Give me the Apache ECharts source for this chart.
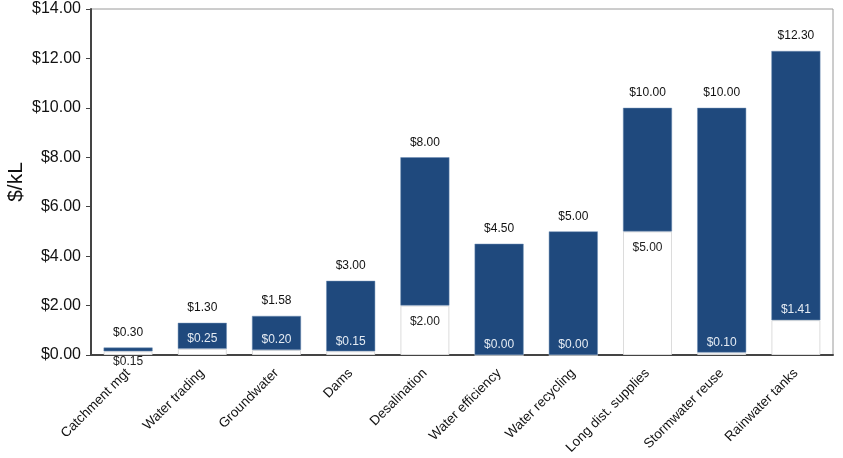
<!DOCTYPE html>
<html>
<head>
<meta charset="utf-8">
<script src="https://cdn.jsdelivr.net/npm/echarts@6/dist/echarts.min.js"></script>
<style>
  html, body { margin: 0; padding: 0; background: #fff; }
  #chart { width: 843px; height: 458px; }
</style>
</head>
<body>
<div id="chart"></div>
<script>
var categories = ['Catchment mgt', 'Water trading', 'Groundwater', 'Dams', 'Desalination',
    'Water efficiency', 'Water recycling', 'Long dist. supplies', 'Stormwater reuse', 'Rainwater tanks'];
var lowCost = [0.15, 0.25, 0.20, 0.15, 2.00, 0.00, 0.00, 5.00, 0.10, 1.41];
var highCost = [0.30, 1.30, 1.58, 3.00, 8.00, 4.50, 5.00, 10.00, 10.00, 12.30];
var yTicks = [0, 2, 4, 6, 8, 10, 12, 14];

var navy = '#1F497D';
var money = function (v) { return '$' + v.toFixed(2); };

// low label placement differs per bar in the original
var lowData = lowCost.map(function (v, i) {
    var lab;
    if (i === 0) {
        lab = { position: 'bottom', distance: 1, color: '#222' };
    } else if (v >= 2) {
        lab = { position: 'insideTop', distance: 10, color: '#222' };
    } else {
        lab = { position: 'top', distance: 4, color: '#e4ebf3' };
    }
    return { value: v, label: lab };
});
var spanData = highCost.map(function (v, i) { return +(v - lowCost[i]).toFixed(2); });

var myChart = echarts.init(document.getElementById('chart'));

var option = {
    animation: false,
    grid: {
        left: 91, right: 10, top: 9, bottom: 103,
        outerBoundsMode: 'none',
        containLabel: false,
        show: true, borderColor: '#9a9a9a', borderWidth: 1
    },
    xAxis: {
        type: 'category',
        data: categories,
        axisLine: { lineStyle: { color: '#444', width: 2 } },
        axisTick: { alignWithLabel: false, length: 6, lineStyle: { color: '#444' } },
        axisLabel: {
            rotate: 45, margin: 16, interval: 0,
            fontFamily: 'Liberation Sans', fontSize: 13.5, color: '#111'
        }
    },
    yAxis: {
        type: 'value',
        min: 0, max: 14, interval: 2,
        name: '$/kL',
        nameLocation: 'middle',
        nameGap: 64,
        nameMoveOverlap: false,
        nameTextStyle: { fontFamily: 'Liberation Sans', fontSize: 21, color: '#111' },
        axisLine: { show: true, lineStyle: { color: '#444', width: 2 } },
        axisTick: { show: true, length: 5, lineStyle: { color: '#444' } },
        splitLine: { show: false },
        axisLabel: {
            margin: 10,
            fontFamily: 'Liberation Sans', fontSize: 16, color: '#111',
            formatter: function (v) { return yTicks.indexOf(v) >= 0 ? money(v) : ''; }
        }
    },
    series: [
        {
            name: 'Low',
            type: 'bar',
            stack: 'cost',
            barWidth: '66%',
            data: lowData,
            itemStyle: { color: '#fff', borderColor: '#dcdcdc', borderWidth: 1 },
            label: {
                show: true,
                fontFamily: 'Liberation Sans', fontSize: 12,
                formatter: function (p) { return money(lowCost[p.dataIndex]); }
            }
        },
        {
            name: 'High',
            type: 'bar',
            stack: 'cost',
            data: spanData,
            itemStyle: { color: navy, borderColor: '#6f8fb5', borderWidth: 0.5 },
            label: {
                show: true,
                position: 'top',
                distance: 9,
                fontFamily: 'Liberation Sans', fontSize: 12, color: '#111',
                formatter: function (p) { return money(highCost[p.dataIndex]); }
            }
        }
    ]
};
myChart.setOption(option);
</script>
</body>
</html>
